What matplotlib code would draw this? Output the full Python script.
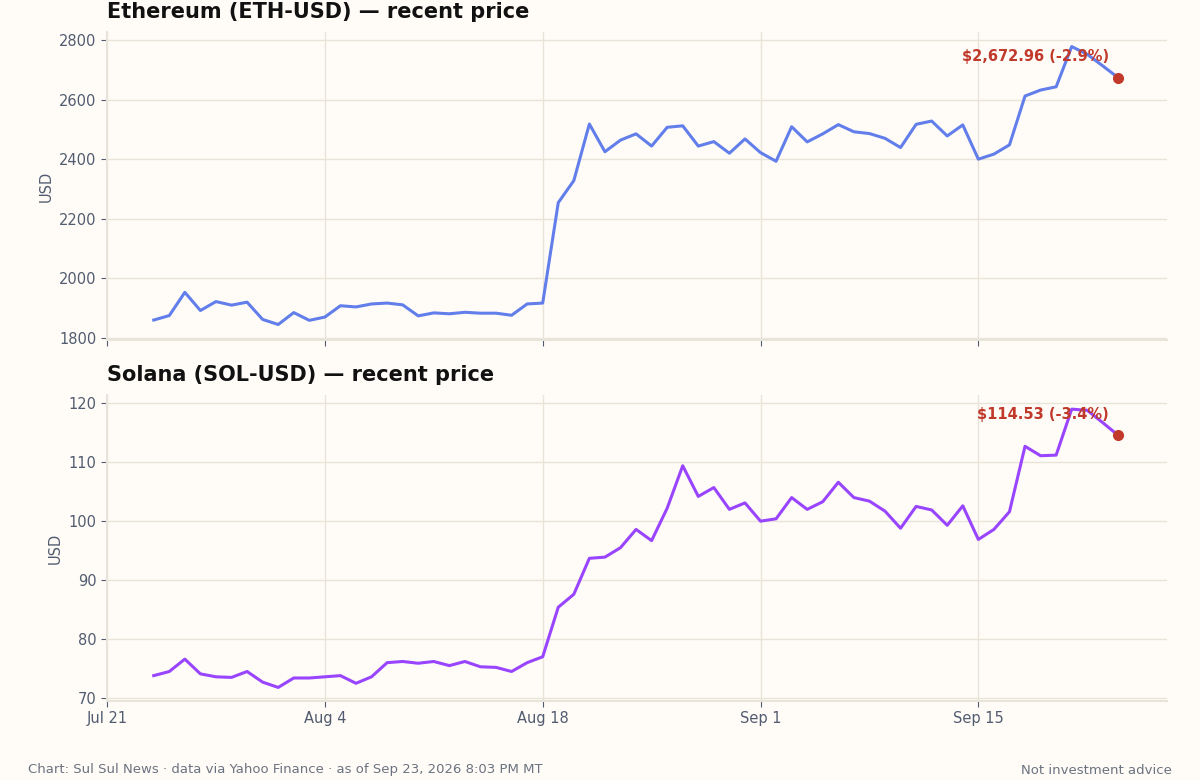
import numpy as np
import pandas as pd
import matplotlib
matplotlib.use("Agg")
import matplotlib.pyplot as plt
import matplotlib.dates as mdates

# daily closes, Jul 24 - Sep 24 2026
dates = pd.date_range("2026-07-24", "2026-09-24", freq="D")

eth = [1860, 1875, 1953, 1892, 1922, 1910, 1920, 1862, 1845, 1885,
       1859, 1870, 1908, 1904, 1914, 1917, 1911, 1874, 1884, 1881,
       1886, 1883, 1883, 1876, 1914, 1917,
       2254, 2328, 2518, 2425, 2464, 2485, 2444, 2507, 2512, 2444,
       2459, 2420, 2468, 2422, 2393, 2509, 2458, 2485, 2516,
       2492, 2486, 2470, 2439, 2517, 2528, 2478, 2515, 2400, 2417,
       2448, 2612, 2632, 2643, 2778, 2752, 2713, 2672.96]

sol = [73.8, 74.5, 76.6, 74.1, 73.6, 73.5, 74.5, 72.7, 71.8, 73.4,
       73.4, 73.6, 73.8, 72.5, 73.6, 76.0, 76.2, 75.9, 76.2, 75.5,
       76.2, 75.3, 75.2, 74.5, 76.0, 77.0,
       85.4, 87.6, 93.7, 93.9, 95.5, 98.6, 96.7, 102.2, 109.4, 104.2,
       105.7, 102.0, 103.1, 100.0, 100.4, 104.0, 102.0, 103.3, 106.6,
       104.0, 103.4, 101.7, 98.8, 102.5, 101.9, 99.3, 102.6, 96.9, 98.6,
       101.6, 112.7, 111.1, 111.2, 119.0, 118.8, 116.7, 114.53]

titles = ["Ethereum (ETH-USD) \u2014 recent price", "Solana (SOL-USD) \u2014 recent price"]
labels = ["$2,672.96 (-2.9%)", "$114.53 (-3.4%)"]
colors = ["#627EEA", "#9945FF"]
xticks = pd.date_range("2026-07-21", periods=5, freq="14D")

bg = "#FFFCF7"
grid_c = "#E9E4D9"
tick_c = "#525C70"
red = "#C0392B"

fig = plt.figure(figsize=(12, 7.8), dpi=100, facecolor=bg)
ax1 = fig.add_axes([0.0892, 0.5641, 0.8833, 0.3949])
ax2 = fig.add_axes([0.0892, 0.1013, 0.8833, 0.3923], sharex=ax1)

for ax, vals, title, lab, col in zip([ax1, ax2], [eth, sol], titles, labels, colors):
    ax.set_facecolor(bg)
    ax.plot(dates, vals, color=col, lw=2.2)
    ax.plot(dates[-1], vals[-1], "o", color=red, ms=7, zorder=5)
    ax.annotate(lab, (dates[-1], vals[-1]), xytext=(-7, 10), textcoords="offset points",
                ha="right", va="bottom", color=red, fontsize=10.5, fontweight="bold")
    ax.set_title(title, loc="left", fontsize=15, fontweight="bold", pad=10, color="#111111")
    ax.set_ylabel("USD", color=tick_c, fontsize=10.5)
    ax.grid(True, color=grid_c, lw=1)
    ax.set_axisbelow(True)
    for s in ["top", "right"]:
        ax.spines[s].set_visible(False)
    for s in ["left", "bottom"]:
        ax.spines[s].set_color(grid_c)
        ax.spines[s].set_linewidth(1.5)
    ax.tick_params(colors=tick_c, labelsize=10.5, length=4)

ax1.set_ylim(1793, 2827)
ax1.set_yticks([1800, 2000, 2200, 2400, 2600, 2800])
ax2.set_ylim(69.5, 121.4)
ax2.set_yticks([70, 80, 90, 100, 110, 120])

ax2.set_xticks(xticks)
ax2.xaxis.set_major_formatter(mdates.DateFormatter("%b %-d"))
ax2.set_xlim(pd.Timestamp("2026-07-21"), pd.Timestamp("2026-09-27 03:00"))
plt.setp(ax1.get_xticklabels(), visible=False)

fig.text(28 / 1200, 1 - 770 / 780, "Chart: Sul Sul News \u00b7 data via Yahoo Finance \u00b7 as of Sep 23, 2026 8:03 PM MT",
         ha="left", va="center", fontsize=9.5, color="#6B7280")
fig.text(1172 / 1200, 1 - 770 / 780, "Not investment advice",
         ha="right", va="center", fontsize=9.5, color="#6B7280")

fig.savefig("out.png", dpi=100, facecolor=bg)
